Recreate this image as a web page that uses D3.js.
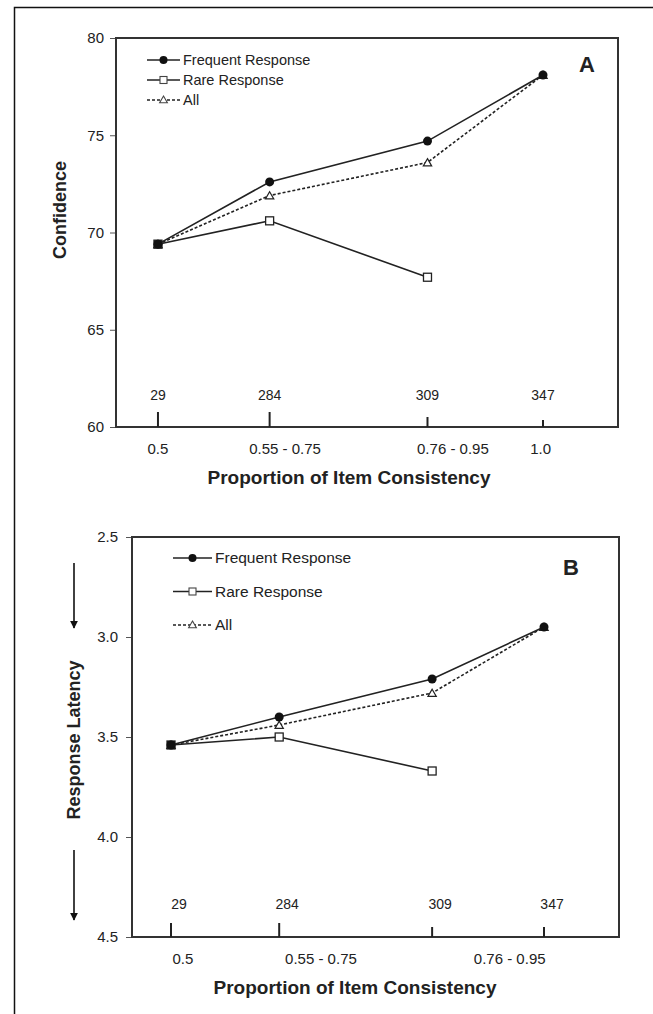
<!DOCTYPE html>
<html>
  <meta charset="UTF-8">
  <head>
    <title>Item Consistency</title>
    <style>
      body { margin: 0; background: #fff; }
      text { font-family: "Liberation Sans", Arial, sans-serif; fill: #222; }
      .frame { fill: none; stroke: #333; stroke-width: 2px; }
      .line { fill: none; stroke: #222; stroke-width: 1.6px; }
      .dashed { stroke-dasharray: 3,2; }
      .axtitle { font-weight: bold; font-size: 18px; }
    </style>
    <script src="https://d3js.org/d3.v7.min.js"></script>
  </head>
  <body>
    <script>
      // ---- data ----
      var xCenters = [0.5, 0.645, 0.85, 1.0];   // where each consistency bin sits on the axis
      var counts = [29, 284, 309, 347];
      var catLabelsA = ["0.5", "0.55 - 0.75", "0.76 - 0.95", "1.0"];
      var catLabelsB = ["0.5", "0.55 - 0.75", "0.76 - 0.95"];

      var confFrequent = [69.4, 72.6, 74.7, 78.1];
      var confRare = [69.4, 70.6, 67.7];
      var confAll = [69.4, 71.9, 73.6, 78.1];
      var confTicks = [60, 65, 70, 75, 80];

      var latFrequent = [3.54, 3.40, 3.21, 2.95];
      var latRare = [3.54, 3.50, 3.67];
      var latAll = [3.54, 3.44, 3.28, 2.95];
      var latTicks = [2.5, 3.0, 3.5, 4.0, 4.5];

      var W = 653, H = 1014;
      var svg = d3.select("body").append("svg")
          .attr("width", W).attr("height", H);

      // outer figure border (left + top visible)
      svg.append("path")
          .attr("d", "M14.5," + H + "V7.5H" + W)
          .attr("fill", "none").attr("stroke", "#111").attr("stroke-width", 1.5);

      function drawPanel(p) {
          var x = d3.scaleLinear().domain(p.xDomain).range([p.left, p.right]);
          var y = d3.scaleLinear().domain(p.yDomain).range([p.top, p.bottom]);
          var g = svg.append("g");

          // y axis with outward ticks
          var yAxis = d3.axisLeft(y).tickValues(p.yTicks).tickSize(6).tickPadding(p.tickPad)
              .tickFormat(p.yFormat);
          var ya = g.append("g").attr("transform", "translate(" + p.left + ",0)").call(yAxis);
          ya.select(".domain").remove();
          ya.selectAll("line").attr("stroke", "#555");
          ya.selectAll("text").style("font-size", "15px").attr("fill", "#222")
              .style("font-family", "Liberation Sans, Arial, sans-serif");

          // plot box
          g.append("rect").attr("class", "frame")
              .attr("x", p.left).attr("y", p.top)
              .attr("width", p.right - p.left).attr("height", p.bottom - p.top);

          // count ticks rising from the x axis
          g.selectAll(".cnt").data(counts).enter().append("line")
              .attr("x1", function(d, i) { return x(xCenters[i]); })
              .attr("x2", function(d, i) { return x(xCenters[i]); })
              .attr("y1", p.bottom)
              .attr("y2", function(d, i) { return p.bottom - p.cntTick[i]; })
              .attr("stroke", "#222").attr("stroke-width", 2);
          g.selectAll(".cntl").data(counts).enter().append("text")
              .attr("x", function(d, i) { return x(xCenters[i]) + p.cntDx; })
              .attr("y", p.bottom - p.cntUp)
              .attr("text-anchor", "middle").style("font-size", "14px")
              .text(function(d) { return d; });

          // category labels
          g.selectAll(".cat").data(p.cats).enter().append("text")
              .attr("x", function(d, i) { return x(p.catX[i]); })
              .attr("y", p.bottom + 27)
              .attr("text-anchor", "middle").style("font-size", "15px")
              .text(function(d) { return d; });

          g.append("text").attr("class", "axtitle")
              .attr("x", p.titleX).attr("y", p.bottom + 57)
              .attr("text-anchor", "middle").style("font-size", "19px")
              .text("Proportion of Item Consistency");

          // series
          var line = d3.line()
              .x(function(d, i) { return x(xCenters[i]); })
              .y(function(d) { return y(d); });

          g.append("path").attr("class", "line").attr("d", line(p.rare));
          g.append("path").attr("class", "line dashed").attr("d", line(p.all));
          g.append("path").attr("class", "line").attr("d", line(p.frequent));

          g.selectAll(".tri").data(p.all).enter().append("path")
              .attr("d", d3.symbol().type(d3.symbolTriangle).size(30))
              .attr("transform", function(d, i) {
                  return "translate(" + x(xCenters[i]) + "," + (y(d) + 1) + ")";
              })
              .attr("fill", "#fff").attr("stroke", "#222").attr("stroke-width", 1.2);
          g.selectAll(".sq").data(p.rare).enter().append("rect")
              .attr("x", function(d, i) { return x(xCenters[i]) - 4; })
              .attr("y", function(d) { return y(d) - 4; })
              .attr("width", 8).attr("height", 8)
              .attr("fill", function(d, i) { return i === 0 ? "#111" : "#fff"; })
              .attr("stroke", "#222").attr("stroke-width", 1.3);
          g.selectAll(".dot").data(p.frequent).enter().append("circle")
              .attr("cx", function(d, i) { return x(xCenters[i]); })
              .attr("cy", function(d) { return y(d); })
              .attr("r", 4.5).attr("fill", "#111");

          // legend
          var lg = g.append("g");
          var entries = [
              {name: "Frequent Response", mark: "dot", dash: false},
              {name: "Rare Response", mark: "sq", dash: false},
              {name: "All", mark: "tri", dash: true}
          ];
          entries.forEach(function(e, i) {
              var ly = p.legY + i * p.legStep;
              lg.append("line")
                  .attr("x1", p.legX).attr("x2", p.legX + p.legLen)
                  .attr("y1", ly).attr("y2", ly)
                  .attr("class", e.dash ? "line dashed" : "line");
              var mx = p.legX + p.legLen / 2;
              if (e.mark === "dot") {
                  lg.append("circle").attr("cx", mx).attr("cy", ly).attr("r", 4).attr("fill", "#111");
              } else if (e.mark === "sq") {
                  lg.append("rect").attr("x", mx - 3.5).attr("y", ly - 3.5)
                      .attr("width", 7).attr("height", 7)
                      .attr("fill", "#fff").attr("stroke", "#444").attr("stroke-width", 1.1);
              } else {
                  lg.append("path")
                      .attr("d", d3.symbol().type(d3.symbolTriangle).size(26))
                      .attr("transform", "translate(" + mx + "," + (ly + 0.5) + ")")
                      .attr("fill", "#fff").attr("stroke", "#444").attr("stroke-width", 1.1);
              }
              lg.append("text")
                  .attr("x", p.legX + p.legLen + 3).attr("y", ly + 5)
                  .style("font-size", p.legFont)
                  .text(e.name);
          });

          g.append("text")
              .attr("x", p.letterX).attr("y", p.letterY)
              .attr("text-anchor", "middle")
              .style("font-weight", "bold").style("font-size", "22px")
              .text(p.letter);
      }

      // ---- panel A: confidence ----
      drawPanel({
          left: 116, right: 618, top: 38, bottom: 427,
          xDomain: [0.4455, 1.0974], yDomain: [80, 60],
          yTicks: confTicks, yFormat: d3.format("d"), tickPad: 6,
          frequent: confFrequent, rare: confRare, all: confAll,
          cats: catLabelsA, catX: [0.5, 0.665, 0.883, 0.997],
          cntTick: [15, 15, 10, 7], cntDx: 0, cntUp: 27,
          titleX: 349,
          legX: 147, legY: 60, legStep: 20, legLen: 33, legFont: "14.5px",
          letter: "A", letterX: 587, letterY: 72
      });

      // ---- panel B: response latency (axis reversed) ----
      drawPanel({
          left: 132, right: 619, top: 537, bottom: 937,
          xDomain: [0.4477, 1.1005], yDomain: [2.5, 4.5],
          yTicks: latTicks, yFormat: d3.format(".1f"), tickPad: 8,
          frequent: latFrequent, rare: latRare, all: latAll,
          cats: catLabelsB, catX: [0.516, 0.701, 0.954],
          cntTick: [14, 14, 10, 10], cntDx: 8, cntUp: 28,
          titleX: 355,
          legX: 173, legY: 558, legStep: 33.5, legLen: 39, legFont: "15.5px",
          letter: "B", letterX: 571, letterY: 575
      });

      // panel titles on the y side
      svg.append("text").attr("class", "axtitle")
          .attr("transform", "translate(66,210) rotate(-90)")
          .attr("text-anchor", "middle")
          .text("Confidence");

      svg.append("text").attr("class", "axtitle")
          .attr("transform", "translate(80,740) rotate(-90)")
          .attr("text-anchor", "middle")
          .text("Response Latency");

      // the two "down" arrows beside the latency label
      var defs = svg.append("defs");
      defs.append("marker").attr("id", "head")
          .attr("viewBox", "0 0 10 10").attr("refX", 9).attr("refY", 5)
          .attr("markerWidth", 5).attr("markerHeight", 5).attr("orient", "auto")
          .append("path").attr("d", "M0,0L10,5L0,10z").attr("fill", "#111");
      [[563, 628], [850, 920]].forEach(function(a) {
          svg.append("line")
              .attr("x1", 74).attr("x2", 74).attr("y1", a[0]).attr("y2", a[1])
              .attr("stroke", "#111").attr("stroke-width", 1.6)
              .attr("marker-end", "url(#head)");
      });
    </script>
  </body>
</html>
